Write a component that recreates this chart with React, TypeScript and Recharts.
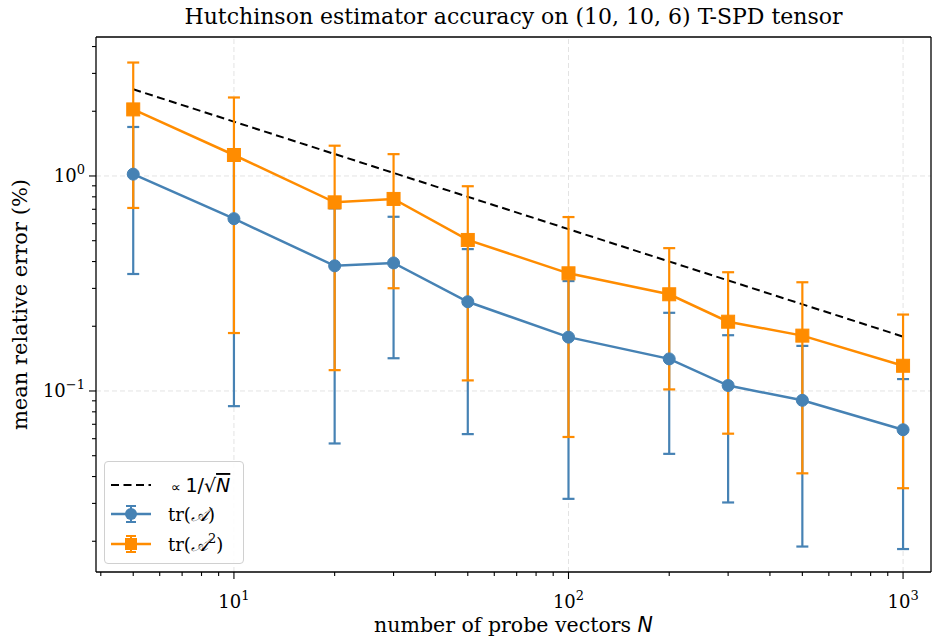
import React from 'react';
import { LineChart, Line, XAxis, YAxis, ErrorBar, ReferenceLine } from 'recharts';

const probeCounts = [5, 10, 20, 30, 50, 100, 200, 300, 500, 1000];
const errTrA = [1.02, 0.633, 0.382, 0.394, 0.26, 0.178, 0.141, 0.106, 0.0905, 0.066];
const stdTrA = [0.67, 0.548, 0.325, 0.252, 0.197, 0.1465, 0.09, 0.0757, 0.0716, 0.0476];
const errTrA2 = [2.04, 1.252, 0.754, 0.782, 0.504, 0.3526, 0.2817, 0.21, 0.1809, 0.131];
const stdTrA2 = [1.33, 1.066, 0.629, 0.4815, 0.392, 0.2915, 0.18, 0.1467, 0.1395, 0.0957];
const refN = [5, 1000];
const refErr = [2.53, 0.179];

const xMajorTicks = [10, 100, 1000];
const xMinorTicks = [4, 5, 6, 7, 8, 9, 20, 30, 40, 50, 60, 70, 80, 90, 200, 300, 400, 500, 600, 700, 800, 900];
const yMajorTicks = [0.1, 1];
const yMinorTicks = [0.02, 0.03, 0.04, 0.05, 0.06, 0.07, 0.08, 0.09, 0.2, 0.3, 0.4, 0.5, 0.6, 0.7, 0.8, 0.9, 2, 3, 4];
const xDomain = [3.87, 1212];
const yDomain = [0.01439, 4.43];

const BLUE = '#4682B4';
const ORANGE = '#FF8C00';
const SERIF = '"DejaVu Serif", serif';
const SANS = '"DejaVu Sans", sans-serif';

const data = probeCounts.map((n, i) => ({
  n,
  a: errTrA[i],
  aStd: stdTrA[i],
  a2: errTrA2[i],
  a2Std: stdTrA2[i],
}));
const refData = refN.map((n, i) => ({ n, v: refErr[i] }));

const XTick = (props: any) => {
  const { x, y, payload } = props;
  const v = payload.value;
  const major = xMajorTicks.includes(v);
  const exp = Math.round(Math.log10(v));
  return (
    <g>
      <line x1={x} x2={x} y1={y} y2={y + (major ? 7 : 4)} stroke="#000" strokeWidth={1.1} />
      {major && (
        <text x={x} y={y + 36} textAnchor="middle" fontSize={18} fontFamily={SERIF} fill="#000">
          10<tspan dy={-8} fontSize={13}>{exp}</tspan>
        </text>
      )}
    </g>
  );
};

const YTick = (props: any) => {
  const { x, y, payload } = props;
  const v = payload.value;
  const major = yMajorTicks.includes(v);
  const exp = Math.round(Math.log10(v));
  return (
    <g>
      <line x1={x - (major ? 7 : 4)} x2={x} y1={y} y2={y} stroke="#000" strokeWidth={1.1} />
      {major && (
        <text x={x - 11} y={y + 6} textAnchor="end" fontSize={18} fontFamily={SERIF} fill="#000">
          10<tspan dy={-8} fontSize={13}>{exp === 0 ? '0' : '\u2212' + Math.abs(exp)}</tspan>
        </text>
      )}
    </g>
  );
};

const SquareDot = (props: any) => {
  const { cx, cy } = props;
  if (cx == null || cy == null) return null;
  return <rect x={cx - 6.5} y={cy - 6.5} width={13} height={13} fill={ORANGE} stroke={ORANGE} strokeWidth={1} />;
};

const Legend = () => (
  <div
    style={{
      position: 'absolute',
      left: 104,
      top: 461,
      width: 138,
      height: 101,
      border: '1px solid #d0d0d0',
      borderRadius: 4,
      background: 'rgba(255,255,255,0.85)',
    }}
  >
    <svg width={138} height={101} style={{ display: 'block' }}>
      <line x1={6} x2={46} y1={23} y2={23} stroke="#000" strokeWidth={2} strokeDasharray="8 4.5" />
      <text x={66} y={30} fontSize={14} fontFamily={SANS} fill="#000">
        {'\u221D '}
        <tspan fontSize={19}>{'1/\u221A'}</tspan>
        <tspan fontSize={19} fontStyle="italic" textDecoration="overline">N</tspan>
      </text>
      <line x1={6} x2={46} y1={52} y2={52} stroke={BLUE} strokeWidth={2.5} />
      <line x1={26} x2={26} y1={44} y2={60} stroke={BLUE} strokeWidth={2} />
      <line x1={21} x2={31} y1={44} y2={44} stroke={BLUE} strokeWidth={2} />
      <line x1={21} x2={31} y1={60} y2={60} stroke={BLUE} strokeWidth={2} />
      <circle cx={26} cy={52} r={6} fill={BLUE} />
      <text x={63} y={59} fontSize={18} fontFamily={SERIF} fill="#000">
        tr(<tspan fontStyle="italic">{'\uD835\uDC9C'}</tspan>)
      </text>
      <line x1={6} x2={46} y1={82} y2={82} stroke={ORANGE} strokeWidth={2.5} />
      <line x1={26} x2={26} y1={74} y2={90} stroke={ORANGE} strokeWidth={2} />
      <line x1={21} x2={31} y1={74} y2={74} stroke={ORANGE} strokeWidth={2} />
      <line x1={21} x2={31} y1={90} y2={90} stroke={ORANGE} strokeWidth={2} />
      <rect x={20} y={76} width={12} height={12} fill={ORANGE} />
      <text x={63} y={89} fontSize={18} fontFamily={SERIF} fill="#000">
        tr(<tspan fontStyle="italic">{'\uD835\uDC9C'}</tspan>
        <tspan dy={-8} fontSize={13}>2</tspan>
        <tspan dy={8}>)</tspan>
      </text>
    </svg>
  </div>
);

export default function App() {
  return (
    <div style={{ position: 'absolute', left: 0, top: 0, width: 935, height: 637, background: '#fff' }}>
      <div
        style={{
          position: 'absolute',
          left: 96,
          top: 4,
          width: 835,
          textAlign: 'center',
          fontFamily: SERIF,
          fontSize: 22,
          color: '#000',
          whiteSpace: 'nowrap',
        }}
      >
        Hutchinson estimator accuracy on (10, 10, 6) T-SPD tensor
      </div>
      <LineChart width={935} height={637} data={data} margin={{ top: 37, right: 4, bottom: 0, left: 0 }}>
        {xMajorTicks.map((t) => (
          <ReferenceLine key={'gx' + t} x={t} stroke="#e3e3e3" strokeDasharray="5 3" strokeWidth={1} />
        ))}
        {yMajorTicks.map((t) => (
          <ReferenceLine key={'gy' + t} y={t} stroke="#e3e3e3" strokeDasharray="5 3" strokeWidth={1} />
        ))}
        <XAxis
          dataKey="n"
          type="number"
          scale="log"
          domain={xDomain}
          allowDataOverflow
          ticks={[...xMinorTicks, ...xMajorTicks].sort((a, b) => a - b)}
          interval={0}
          tick={<XTick />}
          tickLine={false}
          tickSize={0}
          tickMargin={0}
          height={65}
          axisLine={{ stroke: '#000', strokeWidth: 1.3 }}
          label={(p: any) => {
            const vb = p.viewBox;
            return (
              <text x={vb.x + vb.width / 2} y={vb.y + 60} textAnchor="middle" fontSize={20.5} fontFamily={SERIF} fill="#000">
                number of probe vectors <tspan fontFamily={SANS} fontStyle="italic">N</tspan>
              </text>
            );
          }}
        />
        <YAxis
          type="number"
          scale="log"
          domain={yDomain}
          allowDataOverflow
          ticks={[...yMinorTicks, ...yMajorTicks].sort((a, b) => a - b)}
          interval={0}
          tick={<YTick />}
          tickLine={false}
          tickSize={0}
          tickMargin={0}
          width={96}
          axisLine={{ stroke: '#000', strokeWidth: 1.3 }}
          label={(p: any) => {
            const vb = p.viewBox;
            const cy = vb.y + vb.height / 2;
            return (
              <text x={27} y={cy} transform={`rotate(-90, 27, ${cy})`} textAnchor="middle" fontSize={21} fontFamily={SERIF} fill="#000">
                mean relative error (%)
              </text>
            );
          }}
        />
        <ReferenceLine x={xDomain[1]} stroke="#000" strokeWidth={1.3} />
        <ReferenceLine y={yDomain[1]} stroke="#000" strokeWidth={1.3} />
        <Line
          data={refData}
          dataKey="v"
          stroke="#000"
          strokeWidth={2}
          strokeDasharray="8 4.5"
          dot={false}
          isAnimationActive={false}
        />
        <Line
          dataKey="a"
          stroke={BLUE}
          strokeWidth={2.5}
          dot={{ r: 6, fill: BLUE, stroke: BLUE, strokeWidth: 1 }}
          isAnimationActive={false}
        >
          <ErrorBar dataKey="aStd" direction="y" width={6} strokeWidth={2.2} stroke={BLUE} />
        </Line>
        <Line
          dataKey="a2"
          stroke={ORANGE}
          strokeWidth={2.5}
          dot={<SquareDot />}
          isAnimationActive={false}
        >
          <ErrorBar dataKey="a2Std" direction="y" width={6} strokeWidth={2.2} stroke={ORANGE} />
        </Line>
      </LineChart>
      <Legend />
    </div>
  );
}
